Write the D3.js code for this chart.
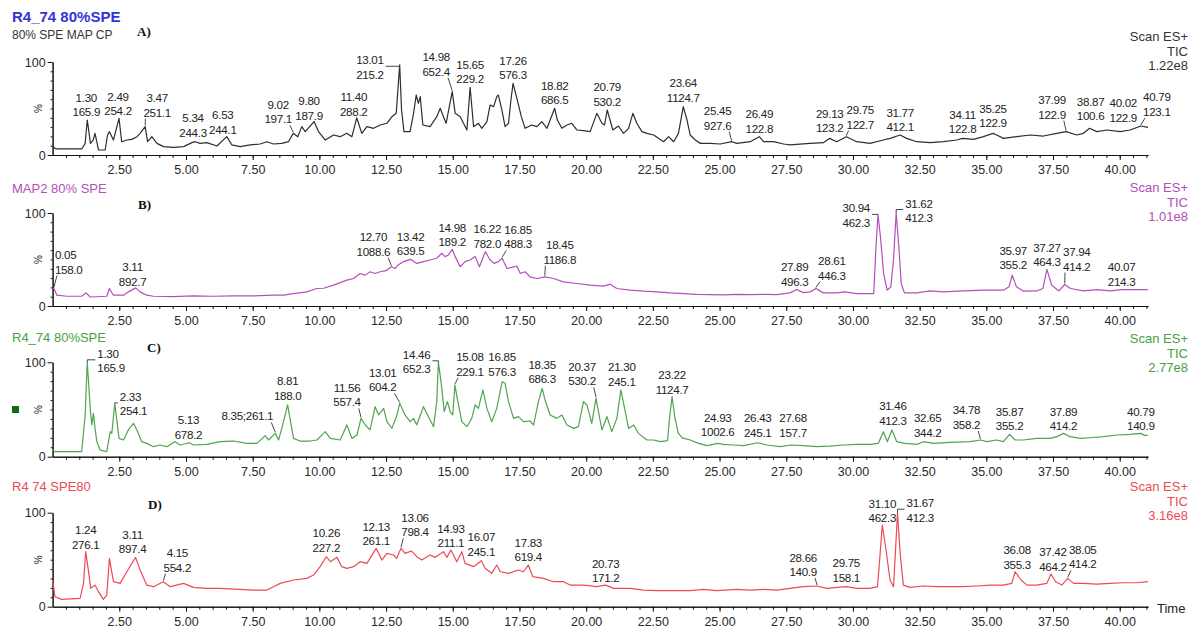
<!DOCTYPE html>
<html>
<head>
<meta charset="utf-8">
<script src="https://cdn.jsdelivr.net/npm/d3@7"></script>
<style>
  body { margin: 0; background: #fff; }
  svg { display: block; font-family: "Liberation Sans", Arial, sans-serif; }
</style>
</head>
<body>
<svg id="chart" width="1194" height="629"></svg>
<script>
// ---------- Axis ticks ----------
const timeTicks = [2.5, 5, 7.5, 10, 12.5, 15, 17.5, 20, 22.5, 25, 27.5, 30, 32.5, 35, 37.5, 40];
const timeTickLabels = ["2.50", "5.00", "7.50", "10.00", "12.50", "15.00", "17.50", "20.00",
  "22.50", "25.00", "27.50", "30.00", "32.50", "35.00", "37.50", "40.00"];
const intensityTicks = [0, 100];
const intensityTickLabels = ["0", "100"];

// ---------- Trace headers ----------
const sampleNames = ["R4_74 80%SPE", "MAP2 80% SPE", "R4_74 80%SPE", "R4 74 SPE80"];
const sampleSubtitle = "80% SPE MAP CP";
const panelLetters = ["A)", "B)", "C)", "D)"];
const scanMode = "Scan ES+";
const traceType = "TIC";
const ticIntensity = ["1.22e8", "1.01e8", "2.77e8", "3.16e8"];

// ---------- TIC traces: [retention time (min), relative intensity (%)] ----------
const traceA = [[0.0,9],[0.13,6.5],[1.09,6.5],[1.22,12.5],[1.30,37.6],[1.42,12.5],[1.52,16],[1.59,23.3],[1.72,5.4],[1.97,5.4],[2.06,21.5],[2.13,25.1],[2.28,16.1],[2.49,39.4],[2.59,14.3],[2.78,16.1],[2.97,16.8],[3.16,19.7],[3.28,23.3],[3.47,30.5],[3.56,14.3],[3.72,19.7],[3.91,12.5],[4.16,9.0],[4.53,8.2],[4.91,9.0],[5.22,13.3],[5.34,14.3],[5.53,12.5],[5.78,13.3],[6.16,9.7],[6.53,19.7],[6.72,10.8],[7.03,9.0],[7.41,10.8],[7.78,11.8],[8.03,14.3],[8.28,11.8],[8.59,12.5],[8.84,14.3],[9.02,23.3],[9.19,19.7],[9.34,30.5],[9.47,25.1],[9.80,36],[9.97,25.1],[10.22,16.1],[10.53,21.5],[10.78,19.7],[11.03,23.3],[11.22,19.7],[11.40,40],[11.59,23.3],[11.78,30.5],[12.03,28.7],[12.28,32.3],[12.53,34.1],[12.72,41.2],[12.88,44.8],[13.01,97],[13.08,48.4],[13.17,25.1],[13.4,25.1],[13.53,44.8],[13.63,64.5],[13.71,55.6],[13.78,62.7],[13.88,32.3],[14.15,30.5],[14.4,41.2],[14.53,50.2],[14.65,41.2],[14.75,34.1],[14.98,68.1],[15.09,44.8],[15.28,41.2],[15.4,34.1],[15.53,26.9],[15.65,72.8],[15.78,30.5],[15.96,34.1],[16.09,28.7],[16.28,35.8],[16.4,53.8],[16.53,52.0],[16.65,62.7],[16.71,64.5],[16.84,48.4],[16.96,30.5],[17.09,34.1],[17.18,59.1],[17.26,77.1],[17.42,59.1],[17.57,41.2],[17.71,28.7],[17.96,32.3],[18.15,30.5],[18.34,35.8],[18.53,28.7],[18.82,50.2],[18.92,37.6],[19.09,28.7],[19.28,32.3],[19.46,34.1],[19.65,26.9],[19.9,26.2],[20.15,25.1],[20.4,44.8],[20.59,34.1],[20.69,32.3],[20.79,48.4],[21.0,26.9],[21.21,31.2],[21.4,23.3],[21.59,28.7],[21.75,44.8],[21.9,34.1],[22.09,25.1],[22.28,23.3],[22.53,21.5],[22.71,17.9],[22.9,14.3],[23.09,19.7],[23.28,14.3],[23.46,23.3],[23.64,52.0],[23.78,37.6],[23.9,21.5],[24.09,16.1],[24.28,12.5],[24.65,12.5],[25.03,11.8],[25.45,14.3],[25.65,12.5],[26.15,14.3],[26.49,19.7],[26.65,14.3],[27.03,14.3],[27.4,11.8],[27.64,10.8],[28.39,12.5],[28.89,13.3],[29.13,17.9],[29.39,14.3],[29.75,19.7],[30.14,14.3],[30.64,12.5],[31.14,16.1],[31.39,17.9],[31.77,21.5],[32.01,17.9],[32.39,14.3],[32.89,13.3],[33.39,14.3],[33.89,16.1],[34.11,17.9],[34.52,16.8],[34.89,19.7],[35.25,23.3],[35.39,21.5],[35.64,17.9],[36.14,19.7],[36.64,21.5],[37.14,20.4],[37.64,23.3],[37.99,25.1],[38.39,21.5],[38.64,23.3],[38.87,28.7],[39.14,25.1],[39.52,26.9],[40.02,25.1],[40.39,26.9],[40.79,31.2],[41.06,29.7]];

const traceB = [[0.0,19],[0.05,18.8],[0.16,11.6],[0.53,10.5],[1.09,10.5],[1.25,14.1],[1.41,9.7],[2.03,10.5],[2.13,18.8],[2.28,11.6],[2.66,11.6],[2.84,15.2],[3.11,19.5],[3.28,15.2],[3.53,11.6],[3.78,10.5],[4.53,10.1],[5.28,10.8],[6.03,10.5],[6.78,10.8],[7.53,10.8],[8.28,11.6],[8.66,11.6],[9.03,13.4],[9.53,15.2],[9.9,18.8],[10.16,19.1],[10.53,22.4],[11.03,27.8],[11.28,29.6],[11.53,35.0],[11.72,33.2],[11.9,36.8],[12.09,35.0],[12.28,36.8],[12.5,38],[12.70,42.2],[12.84,40.4],[12.95,44.0],[13.15,47.7],[13.42,50.2],[13.65,45.8],[13.9,47.7],[14.15,49.5],[14.4,51.3],[14.59,56.7],[14.71,53.1],[14.84,54.9],[14.98,61.0],[15.09,53.1],[15.28,42.2],[15.46,47.7],[15.65,49.5],[15.84,53.1],[16.0,42.2],[16.1,49.5],[16.22,58.5],[16.4,49.5],[16.55,45.8],[16.71,47.7],[16.85,51.3],[17.03,40.4],[17.21,41.5],[17.4,43.0],[17.53,35.0],[17.71,36.8],[17.9,31.4],[18.15,29.6],[18.45,31.4],[18.78,29.6],[19.15,26.0],[19.65,24.2],[20.15,22.4],[20.65,21.3],[20.9,23.5],[21.15,18.8],[21.65,17.0],[22.15,15.9],[22.65,15.2],[23.15,14.1],[23.65,13.4],[24.15,12.6],[24.65,12.3],[25.15,11.9],[25.65,12.6],[26.15,12.3],[26.65,12.6],[27.15,12.3],[27.64,14.1],[27.89,17.7],[28.14,14.4],[28.4,15.2],[28.61,18.8],[28.89,14.1],[29.39,14.1],[29.7,15.2],[30.14,13.4],[30.78,13.4],[30.87,67.5],[30.94,98],[31.03,74.7],[31.15,35.0],[31.28,17.0],[31.42,20.6],[31.52,49.5],[31.62,100],[31.72,63.9],[31.81,24.2],[31.93,14.1],[32.39,14.1],[32.89,16.2],[33.39,15.2],[34.14,16.2],[34.89,17.0],[35.64,17.0],[35.85,20.6],[35.97,33.2],[36.13,20.6],[36.39,15.9],[36.89,16.2],[37.12,18.8],[37.27,39.4],[37.45,22.4],[37.72,16.2],[37.94,23.1],[38.15,18.8],[38.64,16.2],[39.14,17.7],[39.64,16.2],[40.07,17.7],[40.64,17.7],[41.06,17.7]];

const traceC = [[0.0,7.1],[0.09,5.3],[1.09,5.3],[1.22,44.2],[1.30,100],[1.41,51.2],[1.47,33.6],[1.53,45.9],[1.59,30.0],[1.66,15.9],[1.78,7.1],[2.03,5.3],[2.16,26.5],[2.22,24.7],[2.33,56.5],[2.4,40.6],[2.49,19.4],[2.66,17.7],[2.84,28.3],[3.03,35.3],[3.16,28.3],[3.34,15.9],[3.53,14.1],[3.78,10.6],[4.03,12.4],[4.28,10.6],[4.59,15.9],[4.78,12.4],[5.13,14.8],[5.28,12.4],[5.78,13.1],[6.28,15.9],[6.78,16.6],[7.28,14.1],[7.66,14.1],[7.97,22.3],[8.09,17.7],[8.35,24.7],[8.47,17.7],[8.59,30.0],[8.81,54.8],[8.92,37.1],[9.03,19.4],[9.28,16.6],[9.66,16.6],[9.91,17.7],[10.22,26.5],[10.41,19.4],[10.78,17.7],[11.03,33.6],[11.22,19.4],[11.41,23.0],[11.56,40.6],[11.72,33.6],[11.9,28.3],[12.09,53.0],[12.22,44.2],[12.41,51.2],[12.53,37.1],[12.72,30.0],[12.91,44.2],[13.01,56.5],[13.21,44.2],[13.4,37.1],[13.53,40.6],[13.65,33.6],[13.9,53.0],[14.09,42.4],[14.28,31.8],[14.4,58.3],[14.46,100],[14.56,79.5],[14.68,47.7],[14.8,58.3],[14.9,47.7],[15.0,44.2],[15.08,76.0],[15.19,58.3],[15.34,37.1],[15.53,31.8],[15.71,40.6],[15.84,54.8],[15.96,51.2],[16.13,70.7],[16.28,51.2],[16.46,37.1],[16.65,51.2],[16.85,79.5],[16.96,77.7],[17.09,58.3],[17.28,40.6],[17.46,42.4],[17.65,37.1],[17.9,37.8],[18.03,33.6],[18.21,58.3],[18.35,72.4],[18.46,60.1],[18.65,44.2],[18.9,40.6],[19.09,44.2],[19.28,33.6],[19.53,30.0],[19.71,31.8],[19.9,58.3],[20.03,54.8],[20.21,35.3],[20.37,61.8],[20.59,28.3],[20.78,42.4],[20.96,26.5],[21.15,40.6],[21.30,70.7],[21.44,51.2],[21.59,30.0],[21.78,33.6],[21.96,24.7],[22.28,17.7],[22.53,17.7],[22.78,15.9],[23.05,17],[23.13,42.4],[23.22,63.6],[23.32,42.4],[23.45,25],[23.6,20],[23.9,17.7],[24.21,14.1],[24.53,11.7],[24.93,14.1],[25.15,13.1],[25.53,12.4],[25.9,11.7],[26.43,14.8],[26.78,12.4],[27.28,10.6],[27.68,12.4],[28.14,11.7],[28.64,10.6],[29.14,11.3],[29.64,12.4],[30.14,13.1],[30.64,13.1],[30.95,14.1],[31.14,26.5],[31.29,15.9],[31.46,28.3],[31.64,15.9],[31.95,14.1],[32.39,13.1],[32.65,15.9],[33.02,14.1],[33.64,15.2],[34.39,15.9],[34.78,17.7],[35.02,15.9],[35.39,17.7],[35.64,15.9],[35.87,23.7],[36.08,17.7],[36.39,17.7],[36.89,19.4],[37.39,19.4],[37.64,21.2],[37.89,24.7],[38.14,21.2],[38.52,19.4],[38.89,20.1],[39.39,21.2],[39.89,23.0],[40.39,23.7],[40.79,24.7],[40.95,22.3],[41.06,23.0]];

const traceD = [[0.0,28.4],[0.09,10.6],[0.34,7.8],[1.03,8.9],[1.16,24.8],[1.24,58.5],[1.34,39.0],[1.43,19.5],[1.59,23.0],[1.72,16.0],[1.9,7.8],[2.03,12.4],[2.13,51.4],[2.28,26.6],[2.53,24.8],[2.78,37.2],[3.11,52.5],[3.28,39.0],[3.53,23.0],[3.78,21.3],[4.15,26.6],[4.41,21.3],[4.91,24.8],[5.28,20.6],[5.78,19.5],[6.28,19.5],[7.03,18.4],[7.53,17.7],[8.03,17.7],[8.28,21.3],[8.53,24.8],[9.03,28.4],[9.53,30.1],[9.78,33.7],[10.03,42.6],[10.26,53.2],[10.41,47.9],[10.66,52.5],[10.84,42.6],[11.03,40.8],[11.28,42.6],[11.53,47.9],[11.78,46.1],[12.13,62.1],[12.34,49.6],[12.53,56.7],[12.78,55.0],[12.9,51.4],[13.06,62.1],[13.21,56.7],[13.46,59.2],[13.65,53.2],[13.84,49.6],[14.15,55.0],[14.34,52.5],[14.65,58.5],[14.78,52.5],[14.93,60.3],[15.15,47.9],[15.34,58.5],[15.46,46.1],[15.78,42.6],[16.07,48.9],[16.21,40.8],[16.46,35.5],[16.65,44.3],[16.78,37.2],[17.09,35.5],[17.46,39.0],[17.65,37.2],[17.83,44.3],[18.0,31.9],[18.4,30.1],[18.78,26.6],[19.15,26.6],[19.4,23.0],[19.9,23.0],[20.4,21.3],[20.73,23.0],[21.03,19.5],[21.65,19.5],[22.15,17.7],[22.65,17.0],[23.15,17.0],[23.9,17.0],[24.4,18.4],[24.9,17.0],[25.65,18.4],[26.15,17.7],[26.65,18.4],[27.15,17.7],[27.64,19.5],[28.14,21.3],[28.66,22.0],[29.02,19.5],[29.75,21.3],[30.14,19.5],[30.64,19.5],[30.92,21.3],[31.02,56.7],[31.10,86.9],[31.24,60.3],[31.39,28.4],[31.52,21.3],[31.59,56.7],[31.67,100],[31.77,56.7],[31.89,23.0],[32.14,20.6],[32.64,22.0],[33.14,21.3],[33.64,21.3],[34.14,21.3],[34.64,22.0],[35.14,23.0],[35.64,23.0],[35.95,24.8],[36.08,37.2],[36.3,28.4],[36.52,23.0],[36.89,23.0],[37.27,24.8],[37.42,34.8],[37.6,26.6],[37.83,23.0],[38.05,30.1],[38.27,24.8],[38.64,24.8],[39.14,24.1],[39.64,24.8],[40.14,25.5],[40.64,25.5],[41.06,26.6]];

// ---------- Annotated peaks: retention time and base-peak m/z ----------
const peakTimesA = [1.30, 2.49, 3.47, 5.34, 6.53, 9.02, 9.80, 11.40, 13.01, 14.98, 15.65, 17.26, 18.82, 20.79, 23.64, 25.45, 26.49, 29.13, 29.75, 31.77, 34.11, 35.25, 37.99, 38.87, 40.02, 40.79];
const peakMassA = ["165.9", "254.2", "251.1", "244.3", "244.1", "197.1", "187.9", "288.2", "215.2", "652.4", "229.2", "576.3", "686.5", "530.2", "1124.7", "927.6", "122.8", "123.2", "122.7", "412.1", "122.8", "122.9", "122.9", "100.6", "122.9", "123.1"];

const peakTimesB = [0.05, 3.11, 12.70, 13.42, 14.98, 16.22, 16.85, 18.45, 27.89, 28.61, 30.94, 31.62, 35.97, 37.27, 37.94, 40.07];
const peakMassB = ["158.0", "892.7", "1088.6", "639.5", "189.2", "782.0", "488.3", "1186.8", "496.3", "446.3", "462.3", "412.3", "355.2", "464.3", "414.2", "214.3"];

const peakTimesC = [1.30, 2.33, 5.13, 8.35, 8.81, 11.56, 13.01, 14.46, 15.08, 16.85, 18.35, 20.37, 21.30, 23.22, 24.93, 26.43, 27.68, 31.46, 32.65, 34.78, 35.87, 37.89, 40.79];
const peakMassC = ["165.9", "254.1", "678.2", "261.1", "188.0", "557.4", "604.2", "652.3", "229.1", "576.3", "686.3", "530.2", "245.1", "1124.7", "1002.6", "245.1", "157.7", "412.3", "344.2", "358.2", "355.2", "414.2", "140.9"];

const peakTimesD = [1.24, 3.11, 4.15, 10.26, 12.13, 13.06, 14.93, 16.07, 17.83, 20.73, 28.66, 29.75, 31.10, 31.67, 36.08, 37.42, 38.05];
const peakMassD = ["276.1", "897.4", "554.2", "227.2", "261.1", "798.4", "211.1", "245.1", "619.4", "171.2", "140.9", "158.1", "462.3", "412.3", "355.3", "464.2", "414.2"];

// ---------- Label placement (px offsets from the peak apex) ----------
// dx: horizontal shift, lift: gap between apex and the lower text line,
// lead: "line" (slanted leader) or "bracket" (elbow connector), anchor: text alignment.
const labelLayoutA = {
  "1.30": {dx: -1}, "2.49": {dx: -1, lift: 3}, "3.47": {dx: 12, lift: 10, lead: "line"},
  "5.34": {dx: -2, lift: 5}, "6.53": {dx: -4, lift: 3}, "9.02": {dx: -15, lift: 10, lead: "line"},
  "9.80": {dx: -5, lift: 2}, "11.40": {dx: -3, lift: 2},
  "13.01": {anchor: "end", dx: -16, lift: -14, lead: "bracket"},
  "14.98": {dx: -16, lift: 16, lead: "line"}, "23.64": {lift: 5},
  "25.45": {dx: -14, lift: 12, lead: "line"}, "29.13": {lift: 6},
  "29.75": {dx: 14, lift: 8, lead: "line"}, "34.11": {lift: 5}, "35.25": {lift: 6},
  "37.99": {dx: -14, lift: 13, lead: "line"}, "38.87": {dx: 1, lift: 8},
  "40.02": {dx: 3, lift: 10}, "40.79": {dx: 16, lift: 10, lead: "line"}
};
const labelLayoutB = {
  "0.05": {anchor: "start", dx: 1, lift: 15, lead: "line"}, "3.11": {dx: -3, lift: 2},
  "12.70": {dx: -18, lift: 11, lead: "line"}, "14.98": {lift: 3}, "16.22": {dx: 2},
  "16.85": {dx: 16, lift: 10, lead: "line"}, "18.45": {dx: 15, lift: 13, lead: "line"},
  "27.89": {dx: -2}, "28.61": {dx: 16, lift: 9, lead: "line"},
  "30.94": {anchor: "end", dx: -8, lift: -12, lead: "bracket"},
  "31.62": {anchor: "start", dx: 9, lift: -9, lead: "bracket"},
  "35.97": {dx: 1, lift: 6}, "37.27": {lift: 3}, "37.94": {dx: 12, lift: 14, lead: "line"}
};
const labelLayoutC = {
  "1.30": {anchor: "start", dx: 10, lift: -10, lead: "bracket"},
  "2.33": {anchor: "start", dx: 5, lift: -12, lead: "bracket"},
  "5.13": {dx: -1}, "8.35": {inline: true, dx: -28, lift: 13, lead: "line"},
  "8.81": {lift: 5}, "11.56": {dx: -14, lift: 12, lead: "line"},
  "13.01": {dx: -17, lift: 12, lead: "line"},
  "14.46": {anchor: "end", dx: -8, lift: -11, lead: "bracket"},
  "15.08": {dx: 15, lift: 9, lead: "line"}, "16.85": {lift: 6}, "18.35": {lift: 5},
  "20.37": {dx: -14, lift: 13, lead: "line"}, "21.30": {dx: 1}, "23.22": {lift: 3},
  "24.93": {lift: 7}, "26.43": {lift: 6}, "27.68": {dx: 2, lift: 8},
  "31.46": {dx: 1, lift: 5}, "32.65": {dx: 4, lift: 5},
  "34.78": {dx: -14, lift: 11, lead: "line"}, "37.89": {lift: 3}, "40.79": {lift: 3}
};
const labelLayoutD = {
  "1.24": {lift: 3}, "3.11": {dx: -3}, "4.15": {dx: 14, lift: 10, lead: "line"},
  "10.26": {lift: 5}, "12.13": {lift: 3}, "13.06": {dx: 14, lift: 12, lead: "line"},
  "14.93": {lift: 3}, "16.07": {lift: 5}, "20.73": {lift: 3},
  "28.66": {dx: -14, lift: 10, lead: "line"}, "29.75": {lift: 5}, "31.10": {lift: 3},
  "31.67": {anchor: "start", dx: 9, lift: -9, lead: "bracket"},
  "36.08": {dx: 2, lift: 3}, "37.42": {dx: 2, lift: 3}, "38.05": {dx: 15, lift: 10, lead: "line"}
};

// ---------- Panel geometry and styling ----------
const panelStyle = [
  {y0: 155, y100: 62, line: "#2e2e2e", title: "#3434d6", info: "#333333", titleY: 22, titleSize: 15, titleWeight: "bold", letterY: 36, infoY: 41},
  {y0: 306, y100: 213, line: "#b44fba", title: "#b24fb8", info: "#b24fb8", titleY: 193, titleSize: 13, titleWeight: "normal", letterY: 209, infoY: 192},
  {y0: 456.7, y100: 362.3, line: "#4ea54e", title: "#46a046", info: "#46a046", titleY: 342, titleSize: 13, titleWeight: "normal", letterY: 352, infoY: 343},
  {y0: 606.7, y100: 512.7, line: "#ec4a55", title: "#ec4a55", info: "#ec4a55", titleY: 491, titleSize: 13, titleWeight: "normal", letterY: 509, infoY: 491}
];
const letterX = [137, 138, 147, 148];

const svg = d3.select("#chart");
const x = d3.scaleLinear().domain([0, 41.06]).range([52.6, 1148]);
const fmtT = d3.format(".2f");
const minorTimeTicks = d3.range(0.5, 41.06, 0.5);
const minorIntensityTicks = d3.range(10, 100, 10);

function valueAt(trace, t) {
  const i = d3.bisector(d => d[0]).left(trace, t);
  if (i <= 0) return trace[0][1];
  if (i >= trace.length) return trace[trace.length - 1][1];
  const a = trace[i - 1], b = trace[i];
  if (b[0] === t) return b[1];
  return a[1] + (b[1] - a[1]) * (t - a[0]) / (b[0] - a[0]);
}

function styleAxis(g, size) {
  g.attr("font-family", null).attr("font-size", null);
  g.selectAll("path, line").attr("stroke", "#111").attr("stroke-width", 1);
  g.selectAll("text").attr("font-size", size).attr("fill", "#2a2a2a");
}

function drawPanel(idx, trace, times, masses, layout) {
  const st = panelStyle[idx];
  const y = d3.scaleLinear().domain([0, 100]).range([st.y0, st.y100]);
  const g = svg.append("g");

  // time axis: minor then labelled major ticks
  g.append("g").attr("transform", `translate(0,${st.y0})`)
    .call(d3.axisBottom(x).tickValues(minorTimeTicks).tickSize(3).tickSizeOuter(0).tickFormat(""))
    .call(a => styleAxis(a, 12.5));
  g.append("g").attr("transform", `translate(0,${st.y0})`)
    .call(d3.axisBottom(x).tickValues(timeTicks).tickSize(5).tickSizeOuter(0).tickPadding(5)
      .tickFormat((d, i) => timeTickLabels[i]))
    .call(a => styleAxis(a, 12.5));

  // intensity axis
  g.append("g").attr("transform", `translate(52.6,0)`)
    .call(d3.axisLeft(y).tickValues(minorIntensityTicks).tickSize(2).tickSizeOuter(0).tickFormat(""))
    .call(a => styleAxis(a, 12.5));
  g.append("g").attr("transform", `translate(52.6,0)`)
    .call(d3.axisLeft(y).tickValues(intensityTicks).tickSize(5).tickSizeOuter(0).tickPadding(2)
      .tickFormat((d, i) => intensityTickLabels[i]))
    .call(a => styleAxis(a, 12.5));
  g.append("text")
    .attr("transform", `translate(42,${(st.y0 + st.y100) / 2}) rotate(-90)`)
    .attr("text-anchor", "middle").attr("font-size", 10).attr("fill", "#222")
    .text("%");

  // trace
  g.append("path")
    .datum(trace)
    .attr("fill", "none")
    .attr("stroke", st.line)
    .attr("stroke-width", 1.2)
    .attr("stroke-linejoin", "round")
    .attr("d", d3.line().x(d => x(d[0])).y(d => y(d[1])));

  // headers
  g.append("text").attr("x", 12).attr("y", st.titleY)
    .attr("font-size", st.titleSize).attr("font-weight", st.titleWeight)
    .attr("fill", st.title).text(sampleNames[idx]);
  if (idx === 0) {
    g.append("text").attr("x", 12).attr("y", 39).attr("font-size", 12)
      .attr("fill", "#333").text(sampleSubtitle);
  }
  g.append("text").attr("x", letterX[idx]).attr("y", st.letterY)
    .attr("font-family", "'Liberation Serif', 'Times New Roman', serif")
    .attr("font-weight", "bold").attr("font-size", 13).attr("fill", "#111")
    .text(panelLetters[idx]);
  const info = g.append("text").attr("text-anchor", "end").attr("font-size", 13).attr("fill", st.info);
  [scanMode, traceType, ticIntensity[idx]].forEach((s, k) => {
    info.append("tspan").attr("x", 1188).attr("y", st.infoY + k * 14.5).text(s);
  });

  // peak annotations
  const lab = g.append("g").attr("font-size", 11.6).attr("fill", "#222");
  times.forEach((t, i) => {
    const key = fmtT(t);
    const L = Object.assign({dx: 0, lift: 4, lead: null, anchor: "middle", inline: false}, layout[key] || {});
    const px = x(t), py = y(valueAt(trace, t));
    const ax = px + L.dx;
    const base2 = py - L.lift, base1 = base2 - 14.5;
    const lines = L.inline ? [[key + ";" + masses[i], base2]] : [[key, base1], [masses[i], base2]];
    let w = 0;
    lines.forEach(([s, by]) => {
      const tx = lab.append("text").attr("x", ax).attr("y", by).attr("text-anchor", L.anchor)
        .attr("letter-spacing", -0.3).text(s);
      w = Math.max(w, tx.node().getComputedTextLength());
    });
    const left = L.anchor === "middle" ? ax - w / 2 : (L.anchor === "start" ? ax : ax - w);
    const right = left + w;
    if (L.lead === "line") {
      const sx = px < ax ? left + 2 : right - 2;
      lab.append("line").attr("x1", sx).attr("y1", base2 + 2).attr("x2", px).attr("y2", py - 1)
        .attr("stroke", "#333").attr("stroke-width", 0.9);
    } else if (L.lead === "bracket") {
      const by = base1 + 2;
      const sx = px < ax ? left - 2 : right + 2;
      lab.append("path")
        .attr("d", `M${sx},${by}H${px}V${Math.max(by, py)}`)
        .attr("fill", "none").attr("stroke", "#333").attr("stroke-width", 0.9);
    }
  });
}

drawPanel(0, traceA, peakTimesA, peakMassA, labelLayoutA);
drawPanel(1, traceB, peakTimesB, peakMassB, labelLayoutB);
drawPanel(2, traceC, peakTimesC, peakMassC, labelLayoutC);
drawPanel(3, traceD, peakTimesD, peakMassD, labelLayoutD);

// channel marker next to trace C
svg.append("rect").attr("x", 12).attr("y", 406).attr("width", 7).attr("height", 7).attr("fill", "#0b6e14");

// time axis title
svg.append("text").attr("x", 1157).attr("y", 613).attr("font-size", 13).attr("fill", "#222").text("Time");
</script>
</body>
</html>
